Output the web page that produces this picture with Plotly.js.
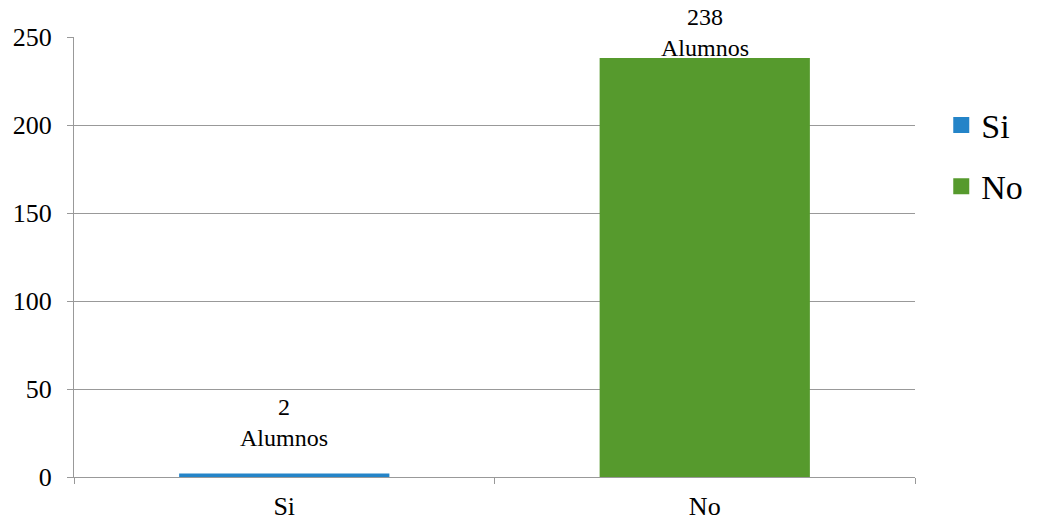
<!DOCTYPE html>
<html>
<head>
<meta charset="utf-8">
<script src="https://cdn.plot.ly/plotly-3.0.1.min.js"></script>
<style>html,body{margin:0;padding:0;background:#fff;}#chart{width:1039px;height:525px;}</style>
</head>
<body>
<div id="chart"></div>
<script>
const categories = ["Si", "No"];
const values = [2, 238];
const labels = ["2<br>Alumnos", "238<br>Alumnos"];
const colors = ["#2484C8", "#569A2D"];
const yTicks = [0, 50, 100, 150, 200, 250];

const FONT = "Liberation Serif, Times New Roman, serif";
const labelShift = [20, -5];

const bars = categories.map((c, i) => ({
  type: "bar",
  name: c,
  x: [c],
  y: [values[i]],
  marker: {color: colors[i]},
  width: 0.5,
  showlegend: false,
  hoverinfo: "none"
}));

const legendItems = categories.map((c, i) => ({
  type: "scatter",
  mode: "markers",
  name: c,
  legendgroup: c,
  x: [null],
  y: [null],
  marker: {symbol: "square", size: 19, color: colors[i]},
  hoverinfo: "none"
}));

const annotations = categories.map((c, i) => ({
  x: c, y: values[i], xref: "x", yref: "y",
  text: labels[i], showarrow: false,
  yanchor: "bottom", yshift: labelShift[i],
  font: {family: FONT, size: 24, color: "#000"}
}));

const layout = {
  width: 1039, height: 525,
  margin: {l: 74, r: 123, t: 37, b: 48},
  paper_bgcolor: "#fff", plot_bgcolor: "#fff",
  barmode: "overlay",
  font: {family: FONT, color: "#000", size: 26},
  xaxis: {
    type: "category",
    categoryorder: "array", categoryarray: categories,
    showline: true, linecolor: "#999", linewidth: 1,
    ticks: "outside", tickson: "boundaries", ticklen: 6, tickcolor: "#999",
    showgrid: false, tickfont: {family: FONT, size: 26}, ticklabelstandoff: 6, fixedrange: true
  },
  yaxis: {
    range: [0, 250], tickvals: yTicks,
    showline: true, linecolor: "#999", linewidth: 1,
    ticks: "outside", ticklen: 6, tickcolor: "#999",
    showgrid: true, gridcolor: "#999", gridwidth: 1,
    zeroline: false, tickfont: {family: FONT, size: 26}, ticklabelstandoff: 10, fixedrange: true
  },
  legend: {
    x: 1.03, xanchor: "left", y: 0.865, yanchor: "top",
    font: {family: FONT, size: 34}, tracegroupgap: 14, itemwidth: 30
  },
  annotations: annotations,
  showlegend: true
};

Plotly.newPlot("chart", bars.concat(legendItems), layout, {displayModeBar: false, staticPlot: true});
</script>
</body>
</html>
